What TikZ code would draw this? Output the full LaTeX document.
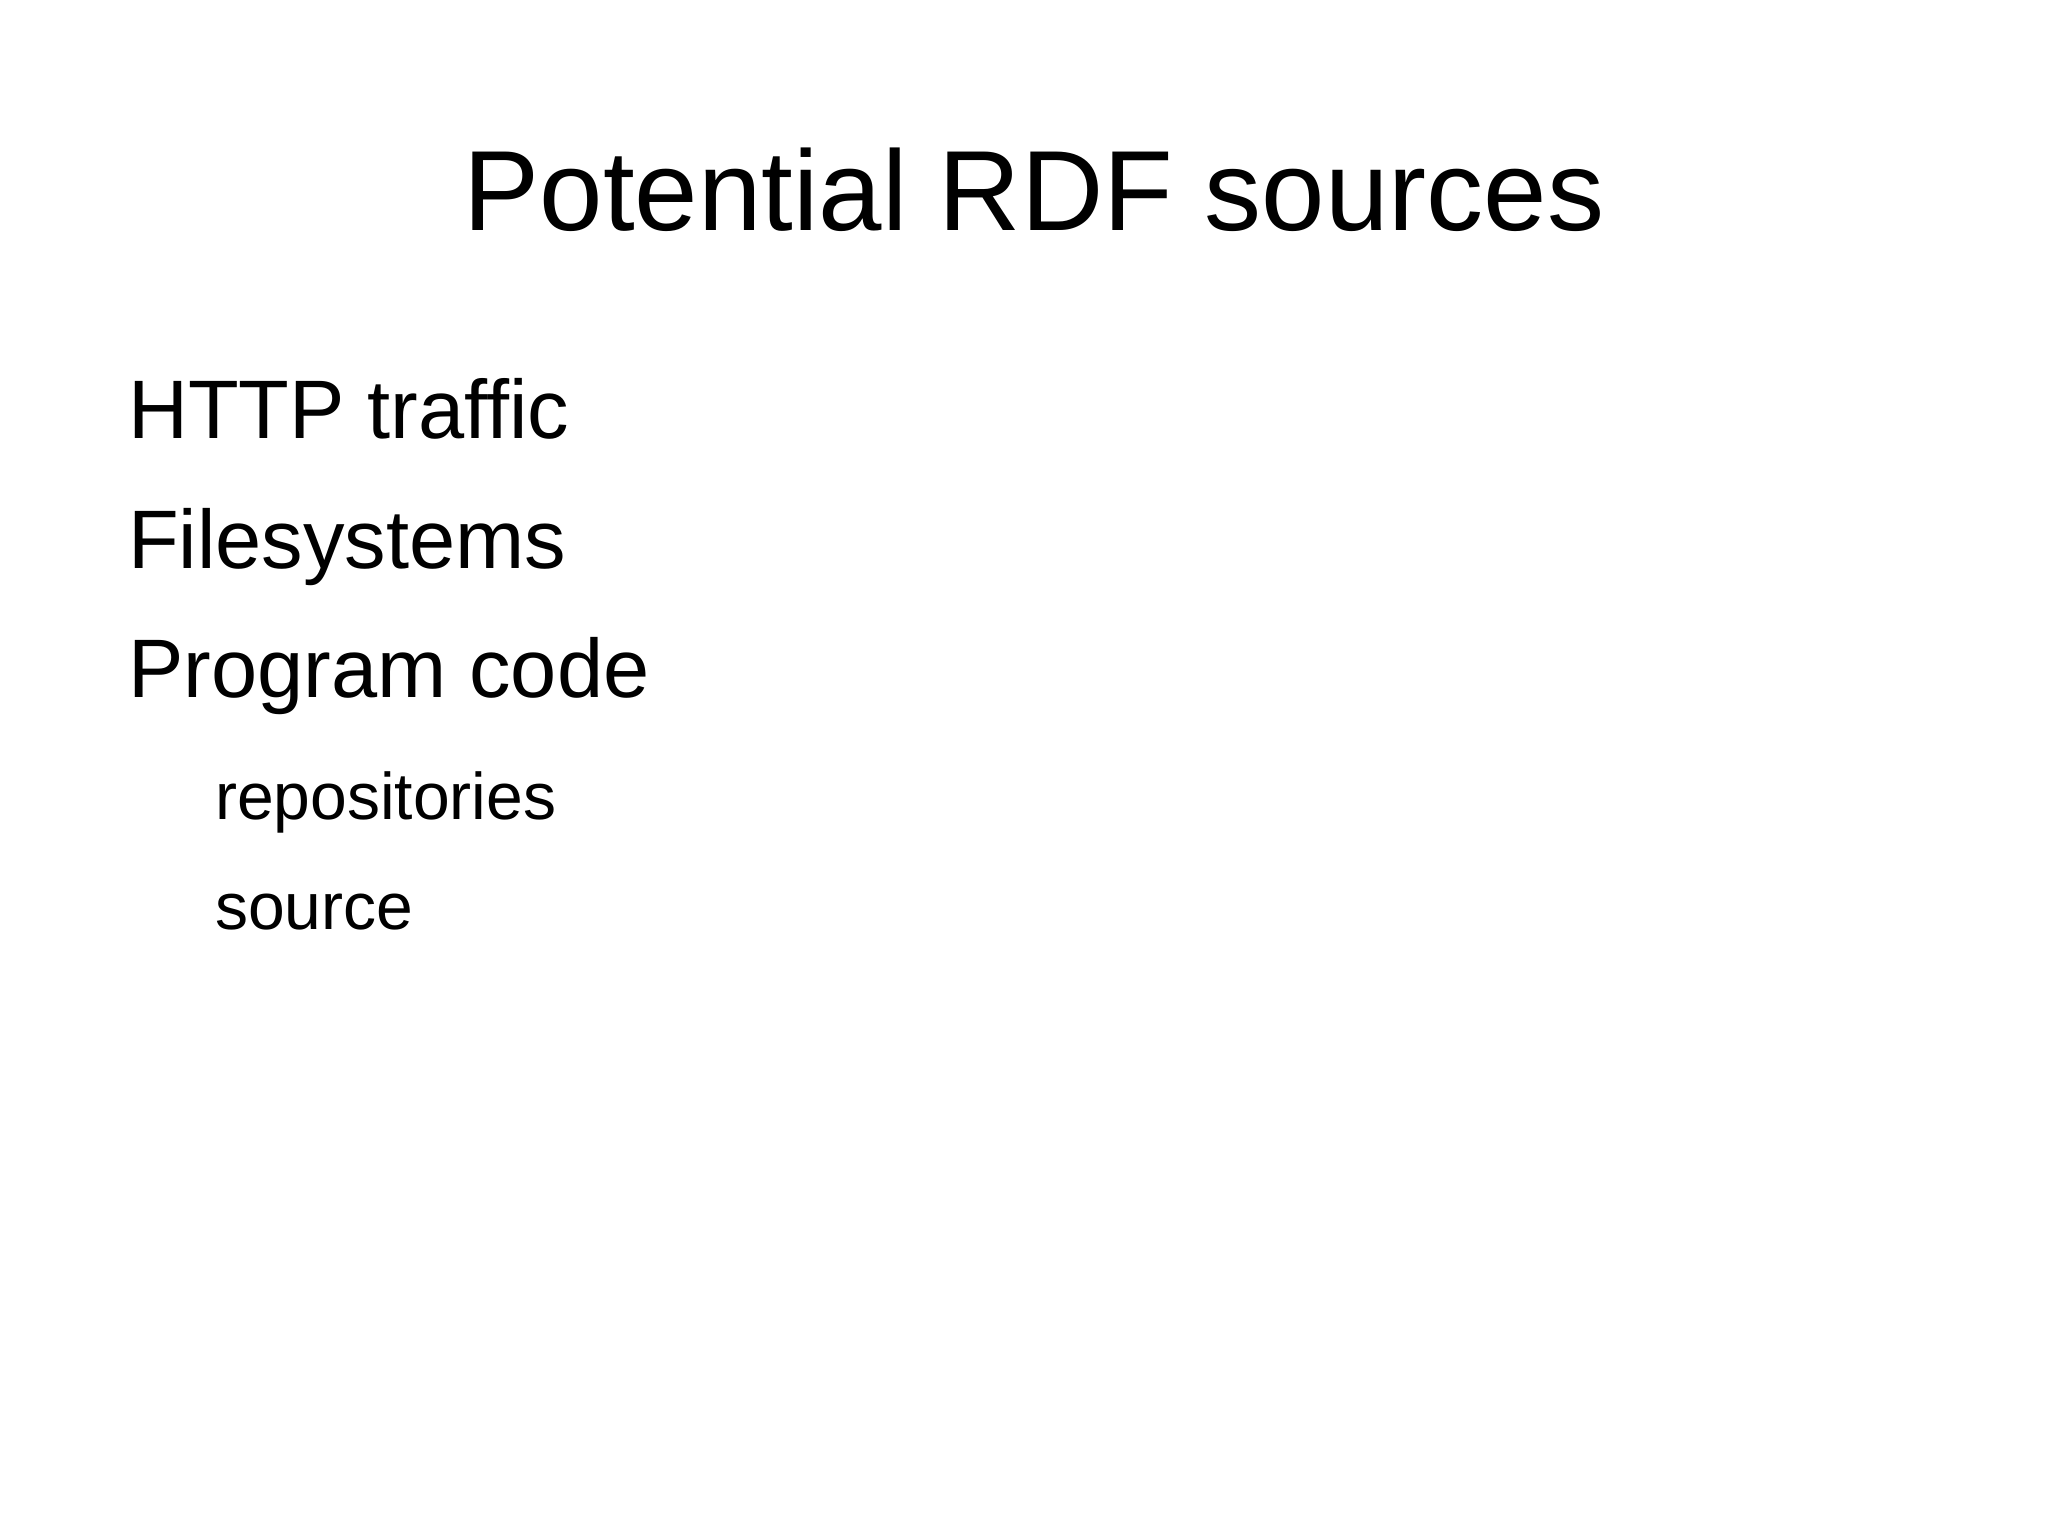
\documentclass[tikz,border=0pt]{standalone}
\usepackage{fontspec}
\setmainfont{Liberation Sans}
\begin{document}
\begin{tikzpicture}[x=1pt,y=-1pt,
  big/.style={anchor=base west,inner sep=0pt,font=\fontsize{83}{90}\selectfont},
  small/.style={anchor=base west,inner sep=0pt,font=\fontsize{66}{72}\selectfont}]
\useasboundingbox[fill=white] (0,0) rectangle (2048,1535);
\node[anchor=base,inner sep=0pt,font=\fontsize{114}{120}\selectfont] (title) at (1034,230) {Potential RDF sources};
\node[big] (a) at (128,438) {HTTP traffic};
\node[big] (b) at (128,568) {Filesystems};
\node[big] (c) at (128,697) {Program code};
\node[small] (d) at (215,819) {repositories};
\node[small] (e) at (215,929) {source};
\end{tikzpicture}
\end{document}
